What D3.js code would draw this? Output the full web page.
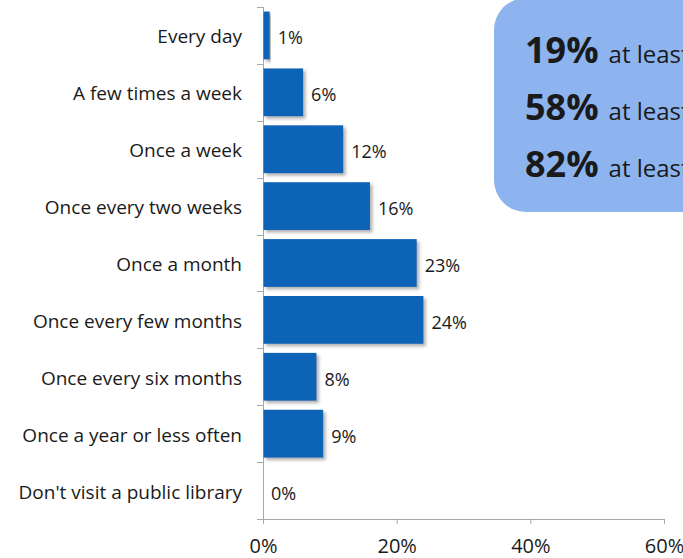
<!DOCTYPE html>
<html>
<head>
<meta charset="utf-8">
<script src="https://cdn.jsdelivr.net/npm/d3@7"></script>
<style>
  html, body { margin: 0; padding: 0; background: #fff; }
  svg { display: block; }
  text { font-family: "Open Sans", "Noto Sans", sans-serif; fill: #1a1a1a; }
</style>
</head>
<body>
<script>
// Frequency of public library visits
const categories = [
  "Every day",
  "A few times a week",
  "Once a week",
  "Once every two weeks",
  "Once a month",
  "Once every few months",
  "Once every six months",
  "Once a year or less often",
  "Don't visit a public library"
];
const values = [1, 6, 12, 16, 23, 24, 8, 9, 0];
const xTicks = [0, 20, 40, 60];

// Cumulative summary shown in the callout
const summaryShares = ["19%", "58%", "82%"];
const summaryTexts = ["at least once a week", "at least once a month", "at least every few months"];

const W = 683, H = 558;
const svg = d3.select("body").append("svg").attr("width", W).attr("height", H);

const defs = svg.append("defs");
const f = defs.append("filter").attr("id", "shadow")
  .attr("x", "-10%").attr("y", "-10%").attr("width", "130%").attr("height", "140%");
f.append("feDropShadow").attr("dx", 2.5).attr("dy", 2.5).attr("stdDeviation", 1.6)
  .attr("flood-color", "#555").attr("flood-opacity", 0.45);

const x = d3.scaleLinear().domain([0, 60]).range([263, 664]);
const y = d3.scaleBand().domain(categories).range([7, 519])
  .paddingInner(0.16).paddingOuter(0.08);

// Callout box
const box = svg.append("g");
box.append("rect").attr("x", 494).attr("y", -2).attr("width", 260).attr("height", 214)
  .attr("rx", 32).attr("ry", 32).attr("fill", "#8db4ef");
summaryShares.forEach((s, i) => {
  const t = box.append("text").attr("x", 525).attr("y", 63 + i * 57);
  t.append("tspan").attr("font-weight", 700).attr("font-size", 36).text(s);
  t.append("tspan").attr("font-size", 24).attr("dx", 10).text(summaryTexts[i]);
});

// Axes
const axisColor = "#a8a8a8";
const gx = svg.append("g").attr("transform", `translate(0,${519})`)
  .call(d3.axisBottom(x).tickValues(xTicks).tickFormat(d => d + "%").tickSize(5).tickPadding(15));
gx.select(".domain").attr("stroke", axisColor).attr("d", `M${x(0) - 6},0.5H${x(60)}`);
gx.selectAll(".tick line").attr("stroke", axisColor);
gx.selectAll(".tick text").attr("font-size", 20).attr("font-family", "Open Sans, sans-serif").attr("fill", "#1a1a1a");

const yAxis = svg.append("g");
yAxis.append("line").attr("x1", x(0) + 0.5).attr("x2", x(0) + 0.5)
  .attr("y1", y.range()[0]).attr("y2", y.range()[1]).attr("stroke", axisColor);
const bounds = categories.map(c => y(c) - y.step() * y.paddingInner() / 2);
yAxis.selectAll("line.tk").data(bounds).join("line").attr("class", "tk")
  .attr("x1", x(0) - 6).attr("x2", x(0)).attr("y1", d => Math.round(d) + 0.5).attr("y2", d => Math.round(d) + 0.5)
  .attr("stroke", axisColor);

// Category labels
svg.append("g").selectAll("text").data(categories).join("text")
  .attr("x", 242).attr("y", d => y(d) + y.bandwidth() / 2 + 1)
  .attr("text-anchor", "end").attr("dominant-baseline", "central")
  .attr("font-size", 19).text(d => d);

// Bars
svg.append("g").selectAll("rect").data(values).join("rect")
  .attr("x", x(0) + 0.5).attr("y", (d, i) => y(categories[i]))
  .attr("width", d => Math.max(0, x(d) - x(0) - 0.5)).attr("height", y.bandwidth())
  .attr("fill", "#0a63b5").attr("filter", "url(#shadow)");

// Value labels
svg.append("g").selectAll("text").data(values).join("text")
  .attr("x", d => x(d) + 8).attr("y", (d, i) => y(categories[i]) + y.bandwidth() / 2 + 2)
  .attr("dominant-baseline", "central").attr("font-size", 18)
  .text(d => d + "%");
</script>
</body>
</html>
